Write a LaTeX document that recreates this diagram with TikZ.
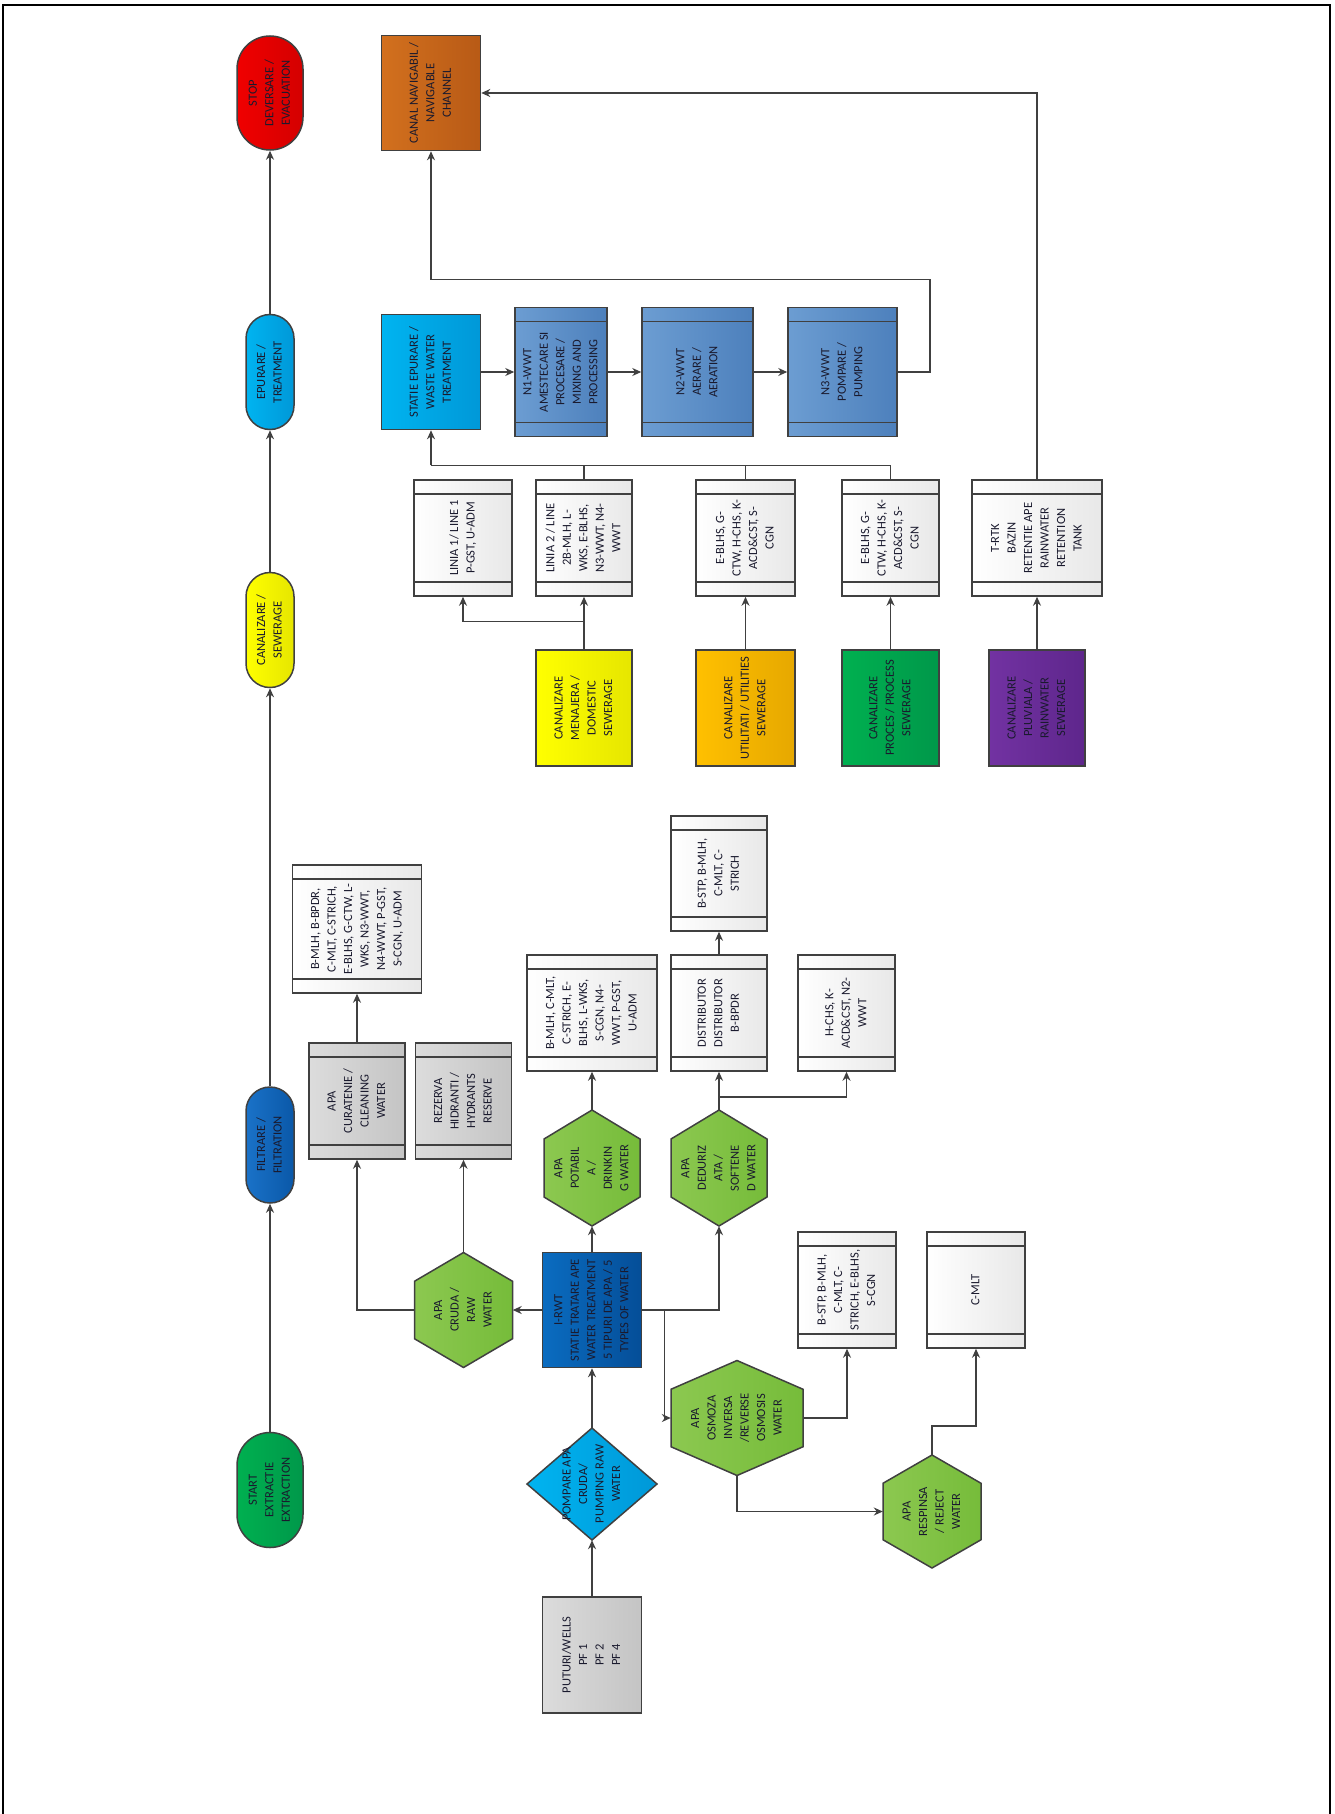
\documentclass[tikz,border=0pt]{standalone}
\usepackage{fontspec}
\setmainfont{Carlito}
\usepackage{graphicx}
\usetikzlibrary{arrows.meta,calc}
\definecolor{linec}{HTML}{404040}
\definecolor{redL}{HTML}{F00000}\definecolor{redR}{HTML}{D40000}
\definecolor{cyanL}{HTML}{00B4F0}\definecolor{cyanR}{HTML}{0098D8}
\definecolor{yelL}{HTML}{FFFF00}\definecolor{yelR}{HTML}{E6E600}
\definecolor{fbluL}{HTML}{1A72C8}\definecolor{fbluR}{HTML}{0A58A8}
\definecolor{grnL}{HTML}{00B050}\definecolor{grnR}{HTML}{00984A}
\definecolor{orgL}{HTML}{D2701E}\definecolor{orgR}{HTML}{B85A16}
\definecolor{nbL}{HTML}{6C9DD2}\definecolor{nbR}{HTML}{4D80BC}
\definecolor{dbL}{HTML}{0A6CC0}\definecolor{dbR}{HTML}{054E98}
\definecolor{ambL}{HTML}{FFC000}\definecolor{ambR}{HTML}{E6A800}
\definecolor{purL}{HTML}{7232A2}\definecolor{purR}{HTML}{5E268C}
\definecolor{hexL}{HTML}{8CC850}\definecolor{hexR}{HTML}{76BC3A}
\definecolor{gryL}{HTML}{DCDCDC}\definecolor{gryR}{HTML}{C4C4C4}
\definecolor{txtc}{HTML}{1A1A2E}
\newcommand\rt[1]{\rotatebox{90}{\begin{tabular}{@{}c@{}}#1\end{tabular}}}
\newcommand\myfs{\fontsize{12.5}{16.5}\selectfont}
\tikzset{
  base/.style={draw=linec, line width=1.5pt, inner sep=0pt, font=\myfs, text=txtc},
  pill/.style={base, rounded corners=#1},
  bars/.style={path picture={\draw[draw=linec, line width=1.3pt]
     ([yshift=-14pt]path picture bounding box.north west) -- ([yshift=-14pt]path picture bounding box.north east)
     ([yshift=14pt]path picture bounding box.south west) -- ([yshift=14pt]path picture bounding box.south east);}},
  wbox/.style={base, left color=white, right color=black!9, bars, minimum height=116},
  gbox/.style={base, left color=gryL, right color=gryR},
  nbox/.style={base, left color=nbL, right color=nbR, bars, minimum height=129},
  cbox/.style={base, minimum height=116},
  hexshape/.style={draw=linec, line width=1.5pt, left color=hexL, right color=hexR},
  dshape/.style={draw=linec, line width=1.5pt, left color=cyanL, right color=cyanR},
  txtnode/.style={inner sep=0pt, font=\myfs, text=txtc},
  line/.style={draw=linec, line width=1.5pt},
  arr/.style={line, -{Stealth[length=9pt,width=8pt]}}
}
\newcommand\hexa[6]{%
  \draw[hexshape] (#2,#3) ++(0,-#5/2) -- ++(#4/2,#5/4) -- ++(0,#5/2) -- ++(-#4/2,#5/4) -- ++(-#4/2,-#5/4) -- ++(0,-#5/2) -- cycle;
  \node[txtnode, minimum width=#4, minimum height=#5] (#1) at (#2,#3) {\rt{#6}};}
\newcommand\diam[6]{%
  \draw[dshape] (#2,#3) ++(0,-#5/2) -- ++(#4/2,#5/2) -- ++(-#4/2,#5/2) -- ++(-#4/2,-#5/2) -- cycle;
  \node[txtnode, minimum width=#4, minimum height=#5] (#1) at (#2,#3) {\rt{#6}};}
\begin{document}
\begin{tikzpicture}[x=1pt, y=-1pt]
\useasboundingbox (0,0) rectangle (1335,1814);
\draw[black, line width=2pt] (3,1814) -- (3,5) -- (1330,5) -- (1330,1814);

% left column
\node[pill=33, minimum width=66, minimum height=114, left color=redL, right color=redR] (stop) at (270,93) {\rt{STOP\\DEVERSARE /\\EVACUATION}};
\node[pill=24, minimum width=48, minimum height=115, left color=cyanL, right color=cyanR] (epurare) at (270,372) {\rt{EPURARE /\\TREATMENT}};
\node[pill=24, minimum width=48, minimum height=115, left color=yelL, right color=yelR] (canalizare) at (270,630) {\rt{CANALIZARE /\\SEWERAGE}};
\node[pill=24, minimum width=48, minimum height=116, left color=fbluL, right color=fbluR] (filtrare) at (270,1145) {\rt{FILTRARE /\\FILTRATION}};
\node[pill=33, minimum width=66, minimum height=115, left color=grnL, right color=grnR] (start) at (270,1490) {\rt{START\\EXTRACTIE\\EXTRACTION}};

% top
\node[base, minimum width=99, minimum height=115, left color=orgL, right color=orgR] (canal) at (431,93) {\rt{CANAL NAVIGABIL /\\NAVIGABLE\\CHANNEL}};
\node[base, minimum width=99, minimum height=115, left color=cyanL, right color=cyanR] (statie) at (431,372) {\rt{STATIE EPURARE /\\WASTE WATER\\TREATMENT}};
\node[nbox, minimum width=92] (n1) at (561,372) {\rt{N1-WWT\\AMESTECARE SI\\PROCESARE /\\MIXING AND\\PROCESSING}};
\node[nbox, minimum width=111] (n2) at (697.5,372) {\rt{N2-WWT\\AERARE /\\AERATION}};
\node[nbox, minimum width=109] (n3) at (842.5,372) {\rt{N3-WWT\\POMPARE /\\PUMPING}};

% sewer outputs
\node[wbox, minimum width=98] (linia1) at (463,538) {\rt{LINIA 1/ LINE 1\\P-GST, U-ADM}};
\node[wbox, minimum width=96] (linia2) at (584,538) {\rt{LINIA 2 / LINE\\2B-MLH, L-\\WKS, E-BLHS,\\N3-WWT, N4-\\WWT}};
\node[wbox, minimum width=99] (utilout) at (745.5,538) {\rt{E-BLHS, G-\\CTW, H-CHS, K-\\ACD\&CST, S-\\CGN}};
\node[wbox, minimum width=97] (procout) at (890.5,538) {\rt{E-BLHS, G-\\CTW, H-CHS, K-\\ACD\&CST, S-\\CGN}};
\node[wbox, minimum width=130] (trtk) at (1037,538) {\rt{T-RTK\\BAZIN\\RETENTIE APE\\RAINWATER\\RETENTION\\TANK}};

% sewer sources
\node[cbox, minimum width=96, left color=yelL, right color=yelR] (menajera) at (584,708) {\rt{CANALIZARE\\MENAJERA /\\DOMESTIC\\SEWERAGE}};
\node[cbox, minimum width=99, left color=ambL, right color=ambR] (utilitati) at (745.5,708) {\rt{CANALIZARE\\UTILITATI / UTILITIES\\SEWERAGE}};
\node[cbox, minimum width=97, left color=grnL, right color=grnR] (proces) at (890.5,708) {\rt{CANALIZARE\\PROCES / PROCESS\\SEWERAGE}};
\node[cbox, minimum width=96, left color=purL, right color=purR] (pluviala) at (1037,708) {\rt{CANALIZARE\\PLUVIALA /\\RAINWATER\\SEWERAGE}};

% water side
\node[wbox, minimum width=129, minimum height=128] (bmlh) at (357,929) {\rt{B-MLH, B-BPDR,\\C-MLT, C-STRICH,\\E-BLHS, G-CTW, L-\\WKS, N3-WWT,\\N4-WWT, P-GST,\\S-CGN, U-ADM}};
\node[gbox, bars, minimum width=96, minimum height=116] (curatenie) at (357,1101) {\rt{APA\\CURATENIE /\\CLEANING\\WATER}};
\node[gbox, bars, minimum width=96, minimum height=116] (rezerva) at (463.5,1101) {\rt{REZERVA\\HIDRANTI /\\HYDRANTS\\RESERVE}};
\node[wbox, minimum width=130] (potout) at (592,1013) {\rt{B-MLH, C-MLT,\\C-STRICH, E-\\BLHS, L-WKS,\\S-CGN, N4-\\WWT, P-GST,\\U-ADM}};
\node[wbox, minimum width=96] (distributor) at (719,1013) {\rt{DISTRIBUTOR\\DISTRIBUTOR\\B-BPDR}};
\node[wbox, minimum width=96, minimum height=115] (bstptop) at (719,873.5) {\rt{B-STP, B-MLH,\\C-MLT, C-\\STRICH}};
\node[wbox, minimum width=97] (hchs) at (846.5,1013) {\rt{H-CHS, K-\\ACD\&CST, N2-\\WWT}};

\hexa{potabila}{592}{1168}{96}{116}{APA\\POTABIL\\A /\\DRINKIN\\G WATER}
\hexa{dedurizata}{719}{1168}{96}{116}{APA\\DEDURIZ\\ATA /\\SOFTENE\\D WATER}
\hexa{cruda}{463.5}{1310}{98}{115}{APA\\CRUDA /\\RAW\\WATER}
\node[base, minimum width=99, minimum height=115, left color=dbL, right color=dbR] (irwt) at (592,1310) {\rt{I-RWT\\STATIE TRATARE APE\\WATER TREATMENT\\5 TIPURI DE APA / 5\\TYPES OF WATER}};
\hexa{osmoza}{737}{1418}{132}{115}{APA\\OSMOZA\\INVERSA\\/REVERSE\\OSMOSIS\\WATER}
\node[wbox, minimum width=98] (bstp2) at (847,1290) {\rt{B-STP, B-MLH,\\C-MLT, C-\\STRICH, E-BLHS,\\S-CGN}};
\node[wbox, minimum width=98] (cmlt) at (976,1290) {\rt{C-MLT}};
\hexa{reject}{932}{1511.5}{98}{113}{APA\\RESPINSA\\/ REJECT\\WATER}
\diam{pompare}{592}{1484}{130}{112}{POMPARE APA\\CRUDA/\\PUMPING RAW\\WATER}
\node[gbox, minimum width=99, minimum height=116] (wells) at (592,1655) {\rt{PUTURI/WELLS\\PF 1\\PF 2\\PF 4}};

% connectors: main column
\draw[arr] (start.north) -- (filtrare.south);
\draw[arr] (filtrare.north) -- (canalizare.south);
\draw[arr] (canalizare.north) -- (epurare.south);
\draw[arr] (epurare.north) -- (stop.south);

% water treatment
\draw[arr] (wells.north) -- (pompare.south);
\draw[arr] (pompare.north) -- (irwt.south);
\draw[arr] (irwt.north) -- (potabila.south);
\draw[arr] (irwt.west) -- (cruda.east);
\draw[arr] (cruda.north) -- (rezerva.south);
\draw[arr] (cruda.west) -| (curatenie.south);
\draw[arr] (curatenie.north) -- (bmlh.south);
\draw[arr] (irwt.east) -| (dedurizata.south);
\coordinate (j1) at ($(irwt.east)+(22,0)$);
\draw[arr] (j1) |- (osmoza.west);
\draw[arr] (potabila.north) -- (potout.south);
\draw[arr] (dedurizata.north) -- (distributor.south);
\coordinate (j2) at ($(dedurizata.north)+(0,-13)$);
\draw[arr] (j2) -| (hchs.south);
\draw[arr] (distributor.north) -- (bstptop.south);
\draw[arr] (osmoza.east) -| (bstp2.south);
\draw[arr] (osmoza.south) |- (reject.west);
\coordinate (j3) at ($(reject.north)+(0,-29)$);
\draw[arr] (reject.north) -- (j3) -| (cmlt.south);

% sewerage
\draw[arr] (menajera.north) -- (linia2.south);
\coordinate (j4) at ($(menajera.north)+(0,-28)$);
\draw[arr] (j4) -| (linia1.south);
\draw[arr] (utilitati.north) -- (utilout.south);
\draw[arr] (proces.north) -- (procout.south);
\draw[arr] (pluviala.north) -- (trtk.south);
\coordinate (bus) at ($(statie.south)+(0,35)$);
\draw[line] (procout.north) |- (bus);
\draw[line] (linia2.north) -- (linia2.north |- bus);
\draw[line] (utilout.north) -- (utilout.north |- bus);
\draw[arr] (bus) -- (statie.south);
\draw[arr] (statie.east) -- (n1.west);
\draw[arr] (n1.east) -- (n2.west);
\draw[arr] (n2.east) -- (n3.west);
\coordinate (k1) at ($(n3.east)+(32,0)$);
\coordinate (k2) at ($(canal.south)+(0,128)$);
\draw[arr] (n3.east) -- (k1) |- (k2) -- (canal.south);
\draw[arr] (trtk.north) |- (canal.east);
\end{tikzpicture}
\end{document}
